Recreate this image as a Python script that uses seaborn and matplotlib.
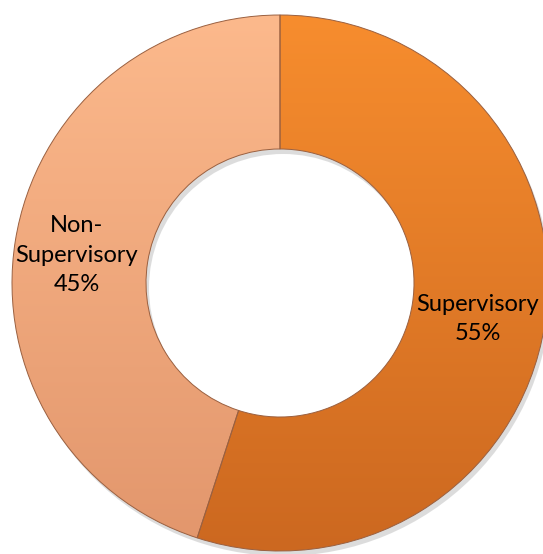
import numpy as np
import matplotlib
matplotlib.use("Agg")
import matplotlib.pyplot as plt
import seaborn as sns
from matplotlib.colors import LinearSegmentedColormap

labels = ["Supervisory", "Non-\nSupervisory"]
shares = [55, 45]
# gradient colours (top -> bottom) for each slice
top_colors = ["#F78D2E", "#FCB98C"]
bottom_colors = ["#CC6820", "#E2966C"]

sns.set_theme(style="white")
plt.rcParams['font.family'] = ['Lato', 'DejaVu Sans']

W, H = 543, 554
fig = plt.figure(figsize=(W / 100, H / 100), dpi=100)
ax = fig.add_axes([0, 0, 1, 1])

cx, cy, r = 280, H - 283, 268
width = 0.5

# soft shadow under the ring
ax.pie([1], radius=r, center=(cx + 3, cy - 5), colors=["#bbbbbb"],
       wedgeprops=dict(width=r * width, linewidth=0, alpha=0.5))

wedges, _ = ax.pie(shares, radius=r, center=(cx, cy), startangle=90,
                   counterclock=False, colors=top_colors,
                   wedgeprops=dict(width=r * width, edgecolor="#9a6040", linewidth=0.7))

grad = np.linspace(0, 1, 256).reshape(-1, 1)
for w, c0, c1 in zip(wedges, top_colors, bottom_colors):
    cmap = LinearSegmentedColormap.from_list("g", [c1, c0])
    im = ax.imshow(grad, cmap=cmap, extent=(cx - r, cx + r, cy - r, cy + r),
                   origin="lower", aspect="auto", zorder=w.get_zorder() + 0.1)
    im.set_clip_path(w)
    w.set_facecolor("none")
    w.set_zorder(w.get_zorder() + 0.2)

# labels
ax.text(478, H - 319, f"{labels[0]}\n{shares[0]}%", ha="center", va="center",
        fontsize=17, linespacing=1.5, color="black", zorder=10)
ax.text(77, H - 255, f"{labels[1]}\n{shares[1]}%", ha="center", va="center",
        fontsize=17, linespacing=1.5, color="black", zorder=10)

ax.set_xlim(0, W)
ax.set_ylim(0, H)
ax.set_aspect("auto")
ax.axis("off")

fig.savefig("out.png", dpi=100)
